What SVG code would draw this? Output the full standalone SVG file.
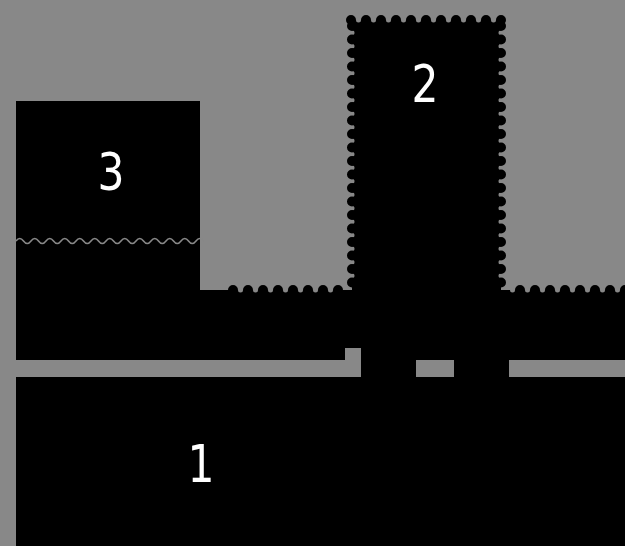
<svg xmlns="http://www.w3.org/2000/svg" width="625" height="546" viewBox="0 0 625 546">
  <style>
    .blk { fill: #000000; }
    .gry { fill: #888888; }
    .scal { stroke: #000000; stroke-width: 10; stroke-linecap: round; fill: none; }
    .bite { stroke: #888888; stroke-width: 5; stroke-linecap: round; fill: none; }
    .lbl { fill: #ffffff; font-family: "DejaVu Sans Condensed", "DejaVu Sans", "Liberation Sans", sans-serif; font-stretch: condensed; font-weight: 500; font-size: 51px; text-anchor: middle; }
    .wave { fill: none; stroke: #888888; stroke-width: 1.6; }
  </style>
  <rect x="0" y="0" width="625" height="546" class="gry"/>

  <g id="area-1">
    <rect x="16" y="290" width="609" height="256" class="blk"/>
    <line x1="240.5" y1="290" x2="345" y2="290" class="bite" stroke-dasharray="0 15"/>
    <line x1="512.5" y1="290" x2="630" y2="290" class="bite" stroke-dasharray="0 15"/>
    <line x1="233" y1="290" x2="340" y2="290" class="scal" stroke-dasharray="0 15"/>
    <line x1="520" y1="290" x2="630" y2="290" class="scal" stroke-dasharray="0 15"/>
    <path d="M0 360 H345 V348 H361 V377 H0 Z" class="gry"/>
    <rect x="416" y="360" width="38" height="17" class="gry"/>
    <rect x="509" y="360" width="116" height="17" class="gry"/>
    <text x="201" y="482" class="lbl" textLength="27" lengthAdjust="spacingAndGlyphs">1</text>
  </g>

  <g id="area-2">
    <rect x="352" y="20" width="149" height="275" class="blk"/>
    <line x1="358.5" y1="20" x2="500" y2="20" class="bite" stroke-dasharray="0 15"/>
    <line x1="352" y1="32.75" x2="352" y2="284" class="bite" stroke-dasharray="0 13.5"/>
    <line x1="501" y1="32.75" x2="501" y2="284" class="bite" stroke-dasharray="0 13.5"/>
    <line x1="351" y1="20" x2="502" y2="20" class="scal" stroke-dasharray="0 15"/>
    <line x1="352" y1="26" x2="352" y2="284" class="scal" stroke-dasharray="0 13.5"/>
    <line x1="501" y1="26" x2="501" y2="284" class="scal" stroke-dasharray="0 13.5"/>
    <text x="425" y="102" class="lbl" textLength="27" lengthAdjust="spacingAndGlyphs">2</text>
  </g>

  <g id="area-3">
    <rect x="16" y="101" width="184" height="200" class="blk"/>
    <path d="M16 241 q3.75 -5 7.5 0 t7.5 0 t7.5 0 t7.5 0 t7.5 0 t7.5 0 t7.5 0 t7.5 0 t7.5 0 t7.5 0 t7.5 0 t7.5 0 t7.5 0 t7.5 0 t7.5 0 t7.5 0 t7.5 0 t7.5 0 t7.5 0 t7.5 0 t7.5 0 t7.5 0 t7.5 0 t7.5 0 t7.5 0" class="wave"/>
    <text x="111" y="190" class="lbl" textLength="27" lengthAdjust="spacingAndGlyphs">3</text>
  </g>
</svg>
